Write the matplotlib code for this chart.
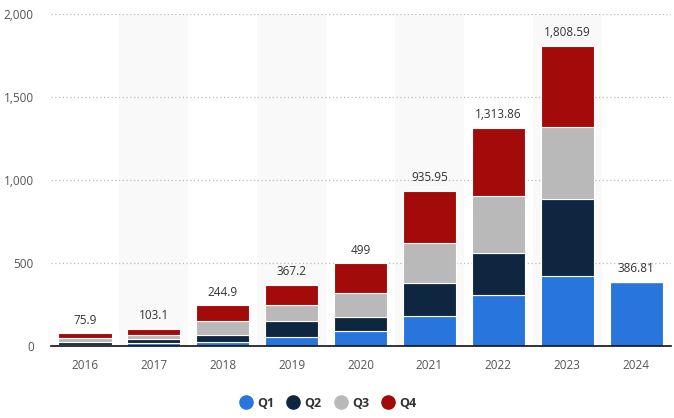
import numpy as np
import matplotlib
matplotlib.use('Agg')
import matplotlib.pyplot as plt
from matplotlib.lines import Line2D

plt.rcParams['font.family'] = ['Open Sans', 'DejaVu Sans']

# ===== 数据 =====
years = ['2016', '2017', '2018', '2019', '2020', '2021', '2022', '2023', '2024']
q1 = [8, 20, 26, 56, 88, 182, 309, 419, 386.81]
q2 = [18, 24, 42, 96, 88, 199, 253, 467, 0]
q3 = [24, 24, 84, 97, 141, 241, 343, 431, 0]
q4 = [25.9, 35.1, 92.9, 118.2, 182, 313.95, 408.86, 491.59, 0]
totals = ['75.9', '103.1', '244.9', '367.2', '499', '935.95', '1,313.86', '1,808.59', '386.81']
quarters = ['Q1', 'Q2', 'Q3', 'Q4']
colors = ['#2876dd', '#0f2640', '#b9b9b9', '#a30b0b']

fig = plt.figure(figsize=(6.74, 4.18), dpi=100)
ax = fig.add_axes([0.075, 0.172, 0.92, 0.795])

x = np.arange(len(years))
# 隔列浅灰背景
for i in x[1::2]:
    ax.axvspan(i - 0.5, i + 0.5, color='#f9f9f9', zorder=0, lw=0)

bottom = np.zeros(len(years))
for vals, c in zip([q1, q2, q3, q4], colors):
    vals = np.array(vals, dtype=float)
    ax.bar(x, vals, 0.77, bottom=bottom, color=c, edgecolor='white', linewidth=0.8, zorder=3)
    bottom += vals

for xi, top, lab in zip(x, bottom, totals):
    ax.text(xi, top + 40, lab, ha='center', va='bottom', fontsize=8.5, color='#333333', zorder=4)

ax.set_xlim(-0.5, len(years) - 0.5)
ax.set_ylim(0, 2000)
ax.set_yticks([0, 500, 1000, 1500, 2000])
ax.set_yticklabels(['0', '500', '1,000', '1,500', '2,000'])
ax.set_xticks(x)
ax.set_xticklabels(years)
ax.tick_params(axis='both', length=0, labelsize=8.5, colors='#555555')
ax.tick_params(axis='x', pad=9)
ax.tick_params(axis='y', pad=12)
for yv in [500, 1000, 1500, 2000]:
    ax.axhline(yv, color='#bbbbbb', linestyle=(0, (1, 2)), linewidth=0.9, zorder=1)
for s in ['top', 'right', 'left']:
    ax.spines[s].set_visible(False)
ax.spines['bottom'].set_color('#111111')
ax.spines['bottom'].set_linewidth(1.2)
ax.spines['bottom'].set_zorder(5)

handles = [Line2D([], [], marker='o', linestyle='none', markersize=9.5, markerfacecolor=c,
                  markeredgecolor=c) for c in colors]
fig.legend(handles, quarters, loc='center', bbox_to_anchor=(0.484, 0.035), ncol=4, frameon=False,
           handletextpad=0.1, columnspacing=0.7, handlelength=1.6,
           prop={'size': 9, 'weight': 'bold'}, labelcolor='#333333')

fig.savefig('out.png', dpi=100)
